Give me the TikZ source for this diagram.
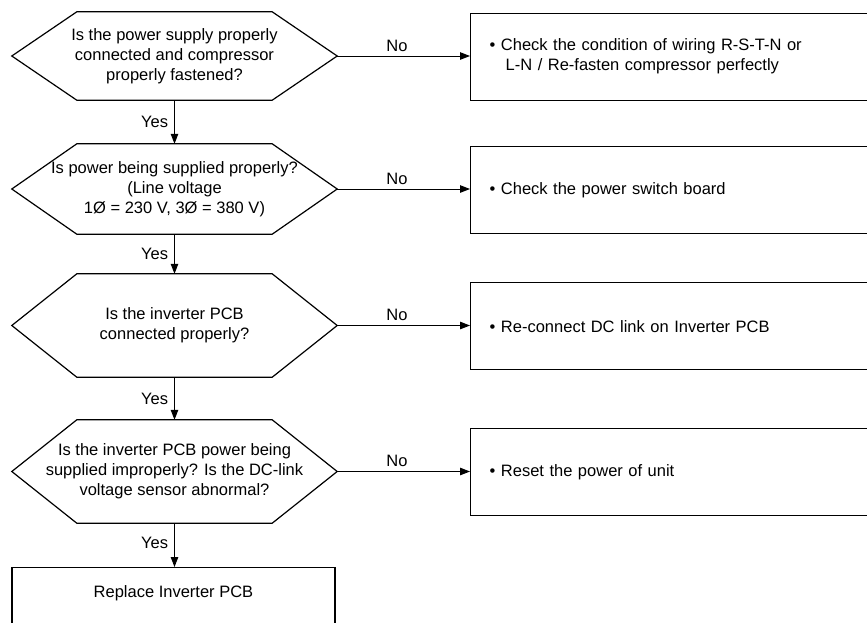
\documentclass[tikz,border=0pt]{standalone}
\usepackage{fontspec}
\setmainfont{Liberation Sans}
\usetikzlibrary{arrows.meta}
\tikzset{
  base/.style={font=\fontsize{16.5}{20}\selectfont},
  hexbox/.style={base, draw=none, minimum width=325pt, align=center, inner sep=0pt},
  hexline/.style={line width=1.2pt, line join=miter},
  actbox/.style={base, draw, line width=1.4pt, anchor=north west, text width=420pt, inner xsep=19pt, minimum height=87pt, align=left},
  conn/.style={line width=1pt, -{Triangle[length=10pt,width=7.5pt]}},
  lbl/.style={base, inner sep=0pt}
}
\newcommand{\hexdraw}[1]{\draw[hexline] (#1.west) -- ([xshift=65pt]#1.north west) -- ([xshift=-65pt]#1.north east) -- (#1.east) -- ([xshift=-65pt]#1.south east) -- ([xshift=65pt]#1.south west) -- cycle;}
\begin{document}
\begin{tikzpicture}[x=1pt,y=-1pt]
\useasboundingbox (0,0) rectangle (867,622);
\clip (0,0) rectangle (867,622);

% decisions
\node[hexbox, minimum height=88pt] (q1) at (174.5,56) {Is the power supply properly\\connected and compressor\\properly fastened?};
\node[hexbox, minimum height=90pt] (q2) at (174.5,189) {Is power being supplied properly?\\(Line voltage\\1Ø = 230 V, 3Ø = 380 V)};
\node[hexbox, minimum height=103pt] (q3) at (174.5,325.5) {Is the inverter PCB\\connected properly?};
\node[hexbox, minimum height=103pt] (q4) at (174.5,471.5) {Is the inverter PCB power being\\supplied improperly? Is the DC-link\\voltage sensor abnormal?};
\hexdraw{q1}
\hexdraw{q2}
\hexdraw{q3}
\hexdraw{q4}

% actions
\node[actbox] (a1) at (470,12.5) {• Check the condition of wiring R-S-T-N or\\\hspace*{16pt}L-N / Re-fasten compressor perfectly};
\node[actbox] (a2) at (470,146) {• Check the power switch board};
\node[actbox] (a3) at (470,282) {• Re-connect DC link on Inverter PCB};
\node[actbox] (a4) at (470,428) {• Reset the power of unit};

% final
\node[draw, line width=1.4pt, minimum width=323pt, minimum height=110pt, anchor=north,
      label={[base, anchor=center, yshift=-26pt]north:Replace Inverter PCB}] (rep) at (173.5,567) {};

% No connectors
\draw[conn] (q1.east) -- (q1.east -| a1.west) node[lbl, pos=0.45, above=4pt] {No};
\draw[conn] (q2.east) -- (q2.east -| a2.west) node[lbl, pos=0.45, above=4pt] {No};
\draw[conn] (q3.east) -- (q3.east -| a3.west) node[lbl, pos=0.45, above=4pt] {No};
\draw[conn] (q4.east) -- (q4.east -| a4.west) node[lbl, pos=0.45, above=4pt] {No};

% Yes connectors
\draw[conn] (q1.south) -- (q2.north) node[lbl, midway, left=6pt] {Yes};
\draw[conn] (q2.south) -- (q3.north) node[lbl, midway, left=6pt] {Yes};
\draw[conn] (q3.south) -- (q4.north) node[lbl, midway, left=6pt] {Yes};
\draw[conn] (q4.south) -- (q4.south |- rep.north) node[lbl, pos=0.45, left=6pt] {Yes};
\end{tikzpicture}
\end{document}
